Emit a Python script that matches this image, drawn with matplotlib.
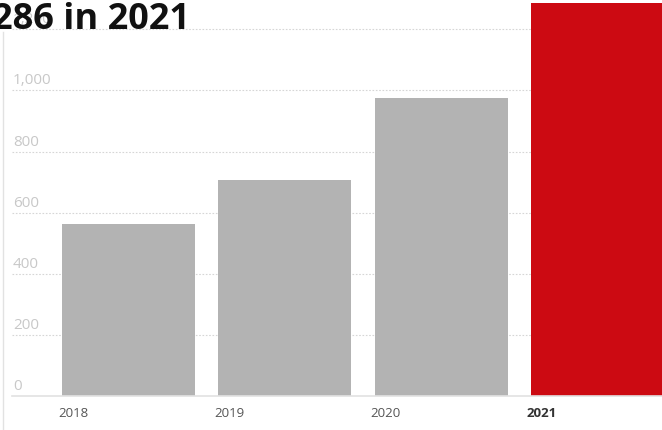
import matplotlib.pyplot as plt

years = ["2018", "2019", "2020", "2021"]
values = [562, 707, 975, 1286]
bar_colors = ["#b3b3b3", "#b3b3b3", "#b3b3b3", "#cc0a12"]
yticks = [0, 200, 400, 600, 800, 1000, 1200]
title = "286 in 2021"

plt.rcParams['font.family'] = ['Open Sans', 'DejaVu Sans']

W, H = 662, 430
fig = plt.figure(figsize=(W / 100, H / 100), dpi=100)
# axes spans from the gridline start (x=12px) to the right edge, zero line at y=396px
ax = fig.add_axes([12 / W, (H - 396) / H, (W - 12) / W, 396 / H])
ax.set_xlim(-0.745, 3.413)
ax.set_ylim(0, 1296)

for t in yticks[1:]:
    ax.axhline(t, color="#d6d6d6", lw=0.8, ls=(0, (1.5, 1.5)), zorder=0)
ax.axhline(0, color="#e2e2e2", lw=1.2, zorder=3, clip_on=False)

x = list(range(len(years)))
ax.bar(x, values, width=0.85, color=bar_colors, zorder=2, clip_on=False)

for t in yticks:
    ax.annotate(f"{t:,}", xy=(0, t), xycoords=("axes fraction", "data"),
                xytext=(1, 2), textcoords="offset pixels",
                ha="left", va="bottom", fontsize=11, color="#c8c8c8", zorder=1)

for i, yr in enumerate(years):
    last = i == len(years) - 1
    ax.annotate(yr, xy=(i - 0.425, 0), xycoords="data",
                xytext=(-4, -11), textcoords="offset pixels",
                ha="left", va="top", fontsize=9.5,
                color="#333333" if last else "#555555",
                fontweight="bold" if last else "normal")

for s in ax.spines.values():
    s.set_visible(False)
ax.set_xticks([])
ax.set_yticks([])

# thin left border of the card
fig.add_artist(plt.Line2D([3 / W, 3 / W], [0, 1 - 32 / H], color="#e2e2e2", lw=1))

fig.text(190 / W, 1 - 29 / H, title, ha="right", va="baseline",
         fontsize=26, fontweight="bold", color="#111111", zorder=10)

fig.savefig("out.png", dpi=100)
